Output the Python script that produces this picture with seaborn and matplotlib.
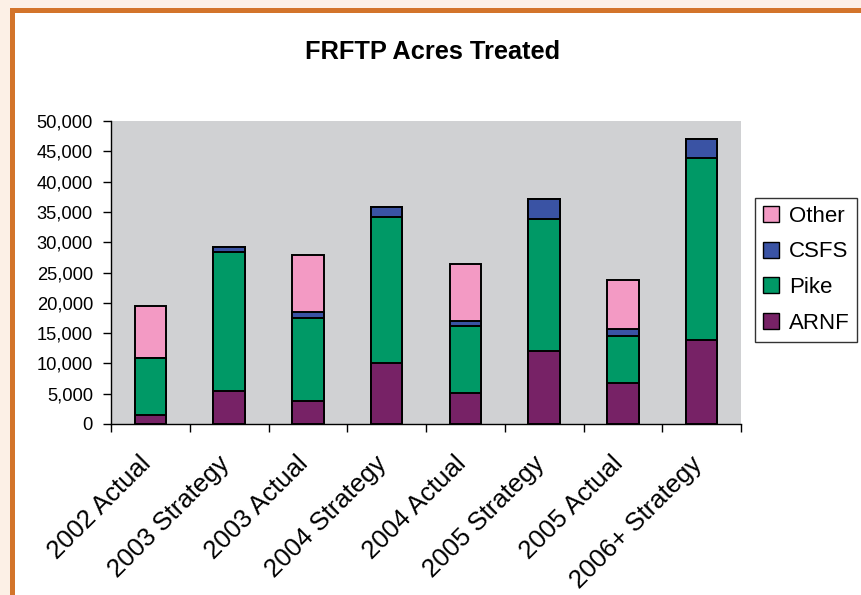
import numpy as np
import pandas as pd
import matplotlib
matplotlib.use("Agg")
import matplotlib.pyplot as plt
from matplotlib.patches import Patch, Rectangle
from matplotlib.ticker import FuncFormatter, MultipleLocator, FixedLocator
from matplotlib.transforms import ScaledTranslation
import seaborn as sns

# Acres treated per plan/actual period, split by agency
categories = ["2002 Actual", "2003 Strategy", "2003 Actual", "2004 Strategy",
              "2004 Actual", "2005 Strategy", "2005 Actual", "2006+ Strategy"]
arnf = [1500, 5400, 3800, 10100, 5100, 12000, 6800, 13900]
pike = [9400, 23000, 13700, 24100, 11100, 21900, 7800, 30000]
csfs = [0, 800, 1050, 1600, 800, 3200, 1100, 3200]
other = [8600, 0, 9350, 0, 9400, 0, 8100, 0]

series_names = ["ARNF", "Pike", "CSFS", "Other"]
series_colors = {"ARNF": "#772266", "Pike": "#009966",
                 "CSFS": "#3A53A4", "Other": "#F39AC4"}

df = pd.DataFrame({"category": categories, "ARNF": arnf, "Pike": pike,
                   "CSFS": csfs, "Other": other})
# cumulative tops of each stacked segment
stack = df[series_names].cumsum(axis=1)

sns.set_theme(style="white")
plt.rcParams["font.family"] = ["Liberation Sans", "DejaVu Sans"]

fig = plt.figure(figsize=(8.61, 5.95), dpi=100)
fig.patch.set_facecolor("#FCF0E6")
# white panel with an orange frame
fig.patches.append(Rectangle((11.5 / 861, -0.2), 2.0, (595 - 9.5) / 595 + 0.2,
                             transform=fig.transFigure, facecolor="white",
                             edgecolor="#D3742A", linewidth=3.6, zorder=-5))

ax = fig.add_axes([111 / 861, (595 - 424) / 595, 630 / 861, 303 / 595])
ax.set_zorder(2)
ax.set_facecolor("#D0D1D3")

# draw tallest cumulative layer first so lower segments overlay it
for name in reversed(series_names):
    sns.barplot(x=df["category"], y=stack[name], color=series_colors[name],
                saturation=1, width=0.4, edgecolor="black", linewidth=1.4,
                errorbar=None, order=categories, ax=ax, zorder=3)

ax.set_ylim(0, 50000)
ax.set_xlim(-0.5, len(categories) - 0.5)
ax.yaxis.set_major_locator(MultipleLocator(5000))
ax.yaxis.set_major_formatter(FuncFormatter(lambda v, p: f"{int(v):,}"))
ax.set_xlabel("")
ax.set_ylabel("")

for s in ["top", "right"]:
    ax.spines[s].set_visible(False)
for s in ["left", "bottom"]:
    ax.spines[s].set_color("black")
    ax.spines[s].set_linewidth(1.0)

ax.tick_params(axis="y", which="major", direction="out", length=6, width=1,
               color="black", labelsize=13.2, labelcolor="black", pad=7, left=True)
ax.tick_params(axis="x", which="major", length=0, labelsize=18.5,
               labelcolor="black", pad=20)
ax.xaxis.set_minor_locator(FixedLocator(np.arange(-0.5, len(categories), 1.0)))
ax.tick_params(axis="x", which="minor", direction="out", length=6, width=1,
               color="black", bottom=True)
shift_left = ScaledTranslation(-0.12, 0, fig.dpi_scale_trans)
for lbl in ax.get_xticklabels():
    lbl.set_rotation(45)
    lbl.set_ha("right")
    lbl.set_va("top")
    lbl.set_rotation_mode("anchor")
    lbl.set_transform(lbl.get_transform() + shift_left)

handles = [Patch(facecolor=series_colors[n], edgecolor="black", linewidth=1.0, label=n)
           for n in reversed(series_names)]
leg = fig.legend(handles=handles, loc="upper left",
                 bbox_to_anchor=(755 / 861, 1 - 198 / 595),
                 bbox_transform=fig.transFigure, borderaxespad=0,
                 frameon=True, fancybox=False, fontsize=16,
                 handlelength=0.72, handleheight=0.72, handletextpad=0.45,
                 labelspacing=0.66, borderpad=0.35, labelcolor="black")
leg.get_frame().set_edgecolor("black")
leg.get_frame().set_linewidth(1.0)
leg.get_frame().set_facecolor("white")
leg.set_zorder(5)

fig.text(433 / 861, 1 - 52 / 595, "FRFTP Acres Treated", ha="center",
         va="center", fontsize=18.3, fontweight="bold", color="black")

fig.savefig("out.png", dpi=100, facecolor=fig.get_facecolor())
